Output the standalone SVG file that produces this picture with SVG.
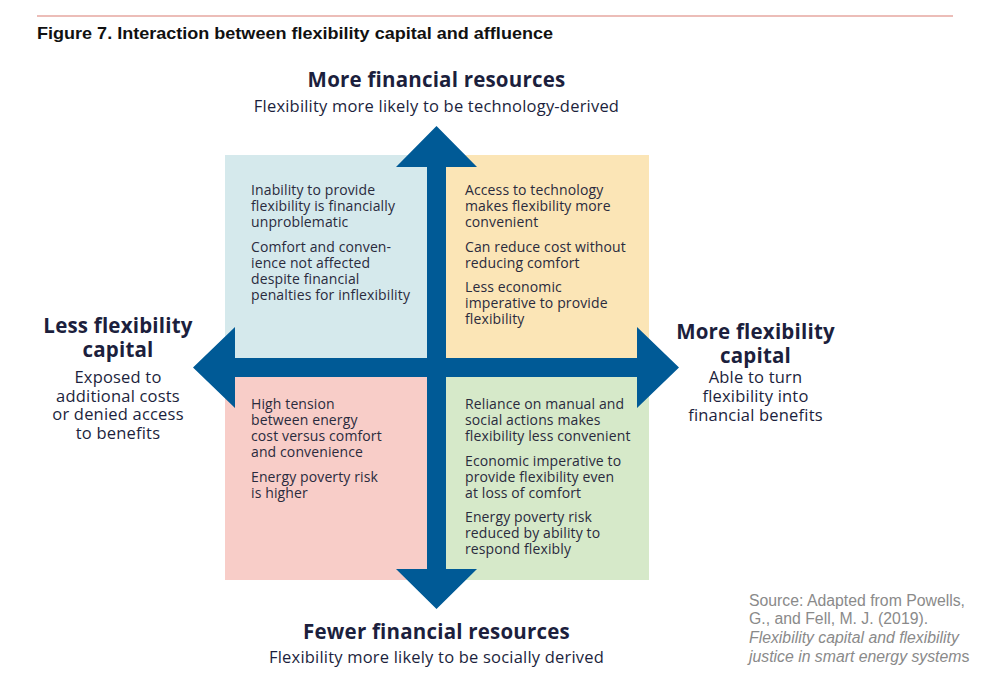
<svg xmlns="http://www.w3.org/2000/svg" width="1000" height="696" viewBox="0 0 1000 696">
<style>
.title{font-family:"Liberation Sans",Arial,sans-serif;font-weight:bold;font-size:16.5px;fill:#111}
.head{font-family:"Open Sans","Liberation Sans",sans-serif;font-weight:bold;font-size:20.5px;letter-spacing:0.2px;fill:#1c1f3d}
.sub{font-family:"Open Sans","Liberation Sans",sans-serif;font-size:16.5px;letter-spacing:0.2px;fill:#1c1f3d}
.body{font-family:"Open Sans","Liberation Sans",sans-serif;font-size:14px;letter-spacing:0.12px;fill:#2a2b3d}
.src{font-family:"Liberation Sans",Arial,sans-serif;font-size:15.8px;fill:#8a8a8a}
.arrow{fill:#005a96}
</style>
<rect width="1000" height="696" fill="#ffffff"/>
<line x1="37" y1="16" x2="953" y2="16" stroke="#e6a7a0" stroke-width="1.5"/>
<text class="title" x="37" y="39" textLength="516" lengthAdjust="spacingAndGlyphs">Figure 7. Interaction between flexibility capital and affluence</text>

<g id="quad-tl">
<rect x="225" y="155" width="202" height="203" fill="#d5e9ec"/>
<text class="body" x="251" y="195">Inability to provide</text>
<text class="body" x="251" y="211">flexibility is financially</text>
<text class="body" x="251" y="227">unproblematic</text>
<text class="body" x="251" y="252">Comfort and conven-</text>
<text class="body" x="251" y="268">ience not affected</text>
<text class="body" x="251" y="284">despite financial</text>
<text class="body" x="251" y="300">penalties for inflexibility</text>
</g>
<g id="quad-tr">
<rect x="446" y="155" width="203" height="203" fill="#fbe5b6"/>
<text class="body" x="465" y="195">Access to technology</text>
<text class="body" x="465" y="211">makes flexibility more</text>
<text class="body" x="465" y="227">convenient</text>
<text class="body" x="465" y="252">Can reduce cost without</text>
<text class="body" x="465" y="268">reducing comfort</text>
<text class="body" x="465" y="292">Less economic</text>
<text class="body" x="465" y="308">imperative to provide</text>
<text class="body" x="465" y="324">flexibility</text>
</g>
<g id="quad-bl">
<rect x="225" y="377" width="202" height="203" fill="#f8cdc8"/>
<text class="body" x="251" y="409">High tension</text>
<text class="body" x="251" y="425">between energy</text>
<text class="body" x="251" y="441">cost versus comfort</text>
<text class="body" x="251" y="457">and convenience</text>
<text class="body" x="251" y="482">Energy poverty risk</text>
<text class="body" x="251" y="498">is higher</text>
</g>
<g id="quad-br">
<rect x="446" y="377" width="203" height="203" fill="#d6e9c9"/>
<text class="body" x="465" y="409">Reliance on manual and</text>
<text class="body" x="465" y="425">social actions makes</text>
<text class="body" x="465" y="441">flexibility less convenient</text>
<text class="body" x="465" y="466">Economic imperative to</text>
<text class="body" x="465" y="482">provide flexibility even</text>
<text class="body" x="465" y="498">at loss of comfort</text>
<text class="body" x="465" y="522">Energy poverty risk</text>
<text class="body" x="465" y="538">reduced by ability to</text>
<text class="body" x="465" y="554">respond flexibly</text>
</g>

<g id="connectors">
<path class="arrow" d="M193,367.5 L235,327 L235,358 L637,358 L637,327 L679,367.5 L637,408 L637,377 L235,377 L235,408 Z"/>
<path class="arrow" d="M436.5,126 L477,167 L446,167 L446,569 L477,569 L436.5,609 L396,569 L427,569 L427,167 L396,167 Z"/>
</g>

<g id="label-top" text-anchor="middle">
<text class="head" x="436.5" y="87">More financial resources</text>
<text class="sub" x="436.5" y="112">Flexibility more likely to be technology-derived</text>
</g>
<g id="label-bottom" text-anchor="middle">
<text class="head" x="436.5" y="639">Fewer financial resources</text>
<text class="sub" x="436.5" y="663">Flexibility more likely to be socially derived</text>
</g>
<g id="label-left" text-anchor="middle">
<text class="head" x="118" y="333">Less flexibility</text>
<text class="head" x="118" y="357">capital</text>
<text class="sub" x="118" y="383">Exposed to</text>
<text class="sub" x="118" y="401.5">additional costs</text>
<text class="sub" x="118" y="420">or denied access</text>
<text class="sub" x="118" y="439">to benefits</text>
</g>
<g id="label-right" text-anchor="middle">
<text class="head" x="755.5" y="339">More flexibility</text>
<text class="head" x="755.5" y="363">capital</text>
<text class="sub" x="755.5" y="383">Able to turn</text>
<text class="sub" x="755.5" y="402">flexibility into</text>
<text class="sub" x="755.5" y="421">financial benefits</text>
</g>
<g id="source">
<text class="src" x="749" y="606">Source: Adapted from Powells,</text>
<text class="src" x="749" y="624">G., and Fell, M. J. (2019).</text>
<text class="src" x="749" y="643" font-style="italic">Flexibility capital and flexibility</text>
<text class="src" x="749" y="662"><tspan font-style="italic">justice in smart energy system</tspan>s</text>
</g>
</svg>
